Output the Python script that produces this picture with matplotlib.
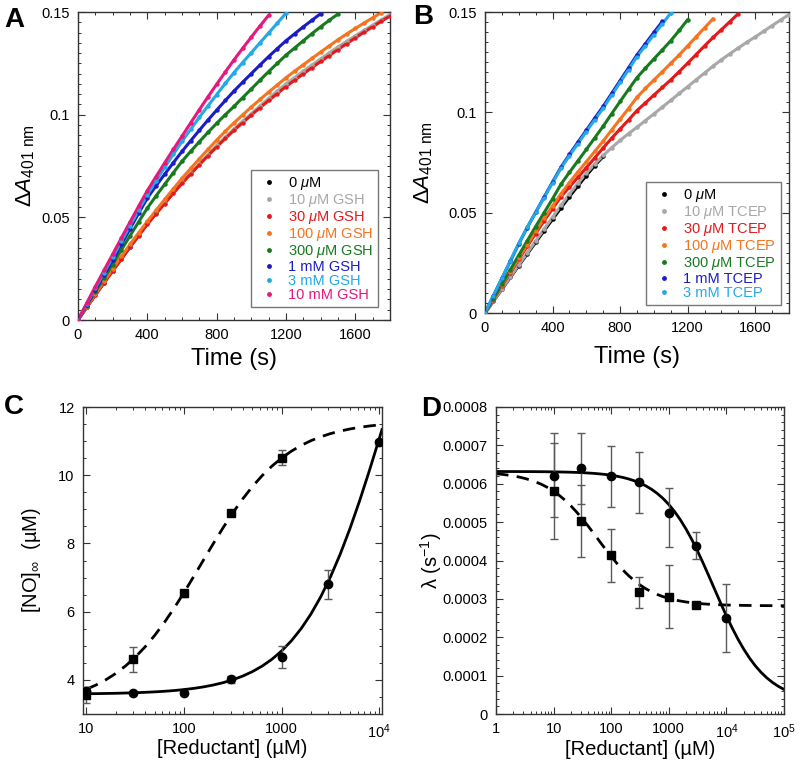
import numpy as np
import matplotlib
matplotlib.use('Agg')
import matplotlib.pyplot as plt
from matplotlib.lines import Line2D
from matplotlib.ticker import MultipleLocator, LogLocator, NullFormatter, FuncFormatter, FixedLocator

plt.rcParams['font.family'] = ['Liberation Sans', 'DejaVu Sans']
plt.rcParams['mathtext.fontset'] = 'custom'
plt.rcParams['mathtext.rm'] = 'Liberation Sans'
plt.rcParams['mathtext.it'] = 'Liberation Sans:italic'
plt.rcParams['mathtext.bf'] = 'Liberation Sans:bold'

# ---------------- Panel A data (GSH), sampled every 50 s ----------------
T_STEP = 50
a_0uM = [0, 0.0062, 0.0122, 0.0182, 0.024, 0.0298, 0.0356, 0.0413, 0.047, 0.052]
a_10uM = [0, 0.0062, 0.0122, 0.0182, 0.024, 0.0298, 0.0356, 0.0413, 0.047, 0.052, 0.057, 0.062,
          0.067, 0.0715, 0.076, 0.0805, 0.085, 0.089, 0.093, 0.0968, 0.1005, 0.1042, 0.1079,
          0.1115, 0.115, 0.1181, 0.1212, 0.1242, 0.1272, 0.1301, 0.133, 0.1357, 0.1384, 0.141,
          0.1436, 0.1462, 0.1487]
a_30uM = [0, 0.0061, 0.0121, 0.0181, 0.0239, 0.0297, 0.0354, 0.041, 0.0466, 0.0517, 0.0567,
          0.0617, 0.0665, 0.0711, 0.0756, 0.08, 0.0843, 0.0884, 0.0924, 0.0961, 0.0998, 0.1034,
          0.1069, 0.1103, 0.1137, 0.1168, 0.1199, 0.1229, 0.1259, 0.1288, 0.1317, 0.1346,
          0.1374, 0.1402, 0.1428, 0.1455, 0.148]
a_100uM = [0, 0.0064, 0.0127, 0.0189, 0.025, 0.031, 0.0368, 0.0425, 0.048, 0.0534, 0.0587,
           0.0639, 0.069, 0.0738, 0.0785, 0.0831, 0.0876, 0.0919, 0.096, 0.0999, 0.1037, 0.1074,
           0.111, 0.1145, 0.118, 0.1212, 0.1243, 0.1274, 0.1305, 0.1335, 0.1365, 0.1393, 0.142,
           0.1446, 0.1472, 0.1497]
a_300uM = [0, 0.0069, 0.0137, 0.0204, 0.027, 0.0341, 0.041, 0.0478, 0.0545, 0.0604, 0.0661,
           0.0717, 0.0773, 0.0821, 0.0868, 0.0914, 0.0958, 0.1, 0.104, 0.1083, 0.1125, 0.1168,
           0.121, 0.125, 0.129, 0.1325, 0.136, 0.1395, 0.1428, 0.146, 0.149]
a_1mM = [0, 0.0074, 0.0147, 0.0219, 0.029, 0.0368, 0.0444, 0.052, 0.0594, 0.0653, 0.071,
         0.0766, 0.0821, 0.0873, 0.0924, 0.0974, 0.1022, 0.1069, 0.1115, 0.1158, 0.12, 0.1242,
         0.1283, 0.1322, 0.136, 0.1394, 0.1428, 0.146, 0.1492]
a_3mM = [0, 0.0078, 0.0155, 0.0231, 0.0306, 0.0383, 0.0459, 0.0535, 0.061, 0.0677, 0.0743,
         0.0807, 0.087, 0.0929, 0.0987, 0.1043, 0.1098, 0.1152, 0.1205, 0.1254, 0.1302, 0.135,
         0.1398, 0.1446, 0.1494]
a_10mM = [0, 0.0082, 0.0163, 0.0242, 0.032, 0.0399, 0.0477, 0.0554, 0.063, 0.0698, 0.0765,
          0.0831, 0.0895, 0.096, 0.1024, 0.1087, 0.1148, 0.1208, 0.1267, 0.1323, 0.1378,
          0.1432, 0.1484]
a_labels = ['0 $\\mathit{\\mu}$M', '10 $\\mathit{\\mu}$M GSH', '30 $\\mathit{\\mu}$M GSH',
            '100 $\\mathit{\\mu}$M GSH', '300 $\\mathit{\\mu}$M GSH', '1 mM GSH', '3 mM GSH',
            '10 mM GSH']

# ---------------- Panel B data (TCEP), sampled every 50 s ----------------
b_0uM = [0, 0.0059, 0.0118, 0.0177, 0.0236, 0.0294, 0.0352, 0.041, 0.0467, 0.0524, 0.058,
         0.0633, 0.0685, 0.0735, 0.078]
b_10uM = [0, 0.006, 0.012, 0.018, 0.024, 0.0299, 0.0359, 0.0418, 0.0477, 0.0536, 0.0593,
          0.0646, 0.0697, 0.0743, 0.0785, 0.0824, 0.086, 0.0894, 0.0926, 0.0959, 0.0992,
          0.1026, 0.106, 0.1094, 0.1128, 0.1162, 0.1196, 0.123, 0.1262, 0.1292, 0.1321,
          0.1349, 0.1376, 0.1404, 0.1432, 0.146, 0.1487]
b_30uM = [0, 0.0067, 0.0134, 0.0201, 0.0267, 0.0332, 0.0396, 0.0459, 0.052, 0.0579, 0.0628,
          0.0676, 0.0724, 0.0773, 0.0823, 0.0871, 0.0917, 0.0962, 0.1009, 0.1047, 0.1086,
          0.1124, 0.1162, 0.1203, 0.1245, 0.1288, 0.1331, 0.1373, 0.1412, 0.1452, 0.1492]
b_100uM = [0, 0.0069, 0.0138, 0.0206, 0.0273, 0.0341, 0.0407, 0.0471, 0.0534, 0.0594, 0.065,
           0.0703, 0.0754, 0.0805, 0.0857, 0.0912, 0.0966, 0.1019, 0.1075, 0.1119, 0.1161,
           0.1202, 0.1244, 0.1286, 0.1331, 0.1376, 0.1421, 0.1466]
b_300uM = [0, 0.0072, 0.0144, 0.0216, 0.0288, 0.036, 0.0431, 0.05, 0.0569, 0.0642, 0.0701,
           0.0758, 0.0815, 0.0873, 0.0931, 0.0993, 0.1054, 0.1114, 0.1173, 0.122, 0.1266,
           0.1311, 0.1357, 0.1408, 0.1462]
b_1mM = [0, 0.0086, 0.0172, 0.0258, 0.0345, 0.0426, 0.0502, 0.0578, 0.0653, 0.0727, 0.079,
         0.0851, 0.0911, 0.0971, 0.103, 0.1094, 0.1158, 0.1222, 0.1286, 0.1342, 0.1398, 0.1453]
b_3mM = [0, 0.0087, 0.0173, 0.026, 0.0347, 0.0427, 0.0501, 0.0575, 0.0649, 0.0722, 0.0784,
         0.0844, 0.0904, 0.0963, 0.1021, 0.1085, 0.1149, 0.1213, 0.1278, 0.1332, 0.1387,
         0.1441, 0.1495]
b_labels = ['0 $\\mathit{\\mu}$M', '10 $\\mathit{\\mu}$M TCEP', '30 $\\mathit{\\mu}$M TCEP',
            '100 $\\mathit{\\mu}$M TCEP', '300 $\\mathit{\\mu}$M TCEP', '1 mM TCEP', '3 mM TCEP']

series_colors = ['#000000', '#a8a8a8', '#e3191c', '#f4741f', '#177a1f', '#1c1cc4', '#22a9e6',
                 '#e4187f']

# ---------------- Panel C data ----------------
c_circ_x = [10, 30, 100, 300, 1000, 3000, 10000]
c_circ_y = [3.68, 3.61, 3.61, 4.02, 4.66, 6.80, 10.98]
c_circ_err = [0.12, 0.03, 0.03, 0.10, 0.32, 0.43, 0.05]
c_sq_x = [10, 30, 100, 300, 1000]
c_sq_y = [3.56, 4.60, 6.54, 8.90, 10.51]
c_sq_err = [0.24, 0.36, 0.10, 0.07, 0.22]
# fitted curves (x = 10**exponent)
c_curve_exp = [1.0, 1.1, 1.2, 1.3, 1.4, 1.5, 1.6, 1.7, 1.8, 1.9, 2.0, 2.1, 2.2, 2.3, 2.4, 2.5,
               2.6, 2.7, 2.8, 2.9, 3.0, 3.1, 3.2, 3.3, 3.4, 3.5, 3.6, 3.7, 3.8, 3.9, 4.0, 4.027]
c_solid_y = [3.594, 3.597, 3.602, 3.607, 3.615, 3.623, 3.635, 3.649, 3.666, 3.688, 3.716,
             3.751, 3.795, 3.850, 3.918, 4.004, 4.110, 4.242, 4.404, 4.604, 4.849, 5.147,
             5.505, 5.932, 6.436, 7.021, 7.690, 8.441, 9.266, 10.152, 11.08, 11.338]
c_dash_y = [3.725, 3.851, 4.003, 4.186, 4.405, 4.662, 4.962, 5.304, 5.687, 6.108, 6.56, 7.033,
            7.516, 7.995, 8.459, 8.897, 9.301, 9.665, 9.987, 10.266, 10.504, 10.706, 10.874,
            11.013, 11.127, 11.220, 11.295, 11.356, 11.405, 11.444, 11.476, 11.483]

# ---------------- Panel D data (units of 1e-4 s^-1) ----------------
d_circ_x = [10, 30, 100, 300, 1000, 3000, 10000]
d_circ_y = [6.21, 6.40, 6.19, 6.04, 5.23, 4.39, 2.51]
d_circ_err_lo = [1.08, 0.93, 0.79, 0.79, 0.89, 0.36, 0.89]
d_circ_err_hi = [1.10, 0.93, 0.79, 0.80, 0.67, 0.36, 0.89]
d_sq_x = [10, 30, 100, 300, 1000, 3000]
d_sq_y = [5.81, 5.02, 4.14, 3.17, 3.05, 2.84]
d_sq_err = [1.25, 0.94, 0.69, 0.40, 0.82, 0.04]
d_curve_exp = [i / 10 for i in range(51)]
d_solid_y = [6.319, 6.319, 6.318, 6.318, 6.317, 6.317, 6.316, 6.315, 6.314, 6.312, 6.310,
             6.307, 6.304, 6.300, 6.295, 6.288, 6.280, 6.270, 6.257, 6.241, 6.221, 6.196,
             6.165, 6.126, 6.078, 6.019, 5.945, 5.856, 5.747, 5.616, 5.460, 5.276, 5.062,
             4.818, 4.543, 4.242, 3.919, 3.580, 3.234, 2.891, 2.558, 2.243, 1.953, 1.692,
             1.461, 1.260, 1.088, 0.944, 0.823, 0.723, 0.641]
d_dash_y = [6.261, 6.246, 6.227, 6.204, 6.175, 6.139, 6.095, 6.042, 5.977, 5.898, 5.805,
            5.696, 5.569, 5.424, 5.262, 5.085, 4.896, 4.698, 4.496, 4.297, 4.105, 3.924,
            3.758, 3.608, 3.477, 3.362, 3.265, 3.183, 3.115, 3.058, 3.012, 2.974, 2.944,
            2.919, 2.899, 2.883, 2.870, 2.860, 2.852, 2.845, 2.840, 2.836, 2.833, 2.830,
            2.828, 2.826, 2.825, 2.824, 2.823, 2.823, 2.822]

SPINE = '#333333'
ERR = '#5a5a5a'

fig = plt.figure(figsize=(8.0, 7.69), dpi=100)
W, H = 800.0, 769.0


def add_axes(l, t, r, b):
    return fig.add_axes([l / W, 1 - b / H, (r - l) / W, (b - t) / H])


def style(ax):
    for s in ax.spines.values():
        s.set_color(SPINE)
        s.set_linewidth(1.0)
    ax.tick_params(which='both', direction='in', top=True, right=True, colors=SPINE,
                   labelcolor='black', labelsize=10.5)
    ax.tick_params(which='major', length=5, width=0.8, pad=6)
    ax.tick_params(which='minor', length=2.5, width=0.7)


def kinetics(ax, series, labels, legend_anchor):
    for y, c in zip(series, series_colors):
        t = np.arange(len(y)) * T_STEP
        ax.plot(t, y, '-', color=c, lw=2.2, solid_capstyle='round', zorder=2)
        ax.plot(t, y, 'o', color=c, ms=3.2, mew=0, zorder=3)
    ax.set_xlim(0, 1800)
    ax.set_ylim(0, 0.15)
    ax.xaxis.set_major_locator(MultipleLocator(400))
    ax.xaxis.set_minor_locator(MultipleLocator(100))
    ax.yaxis.set_major_locator(MultipleLocator(0.05))
    ax.yaxis.set_minor_locator(MultipleLocator(0.005))
    ax.yaxis.set_major_formatter(FuncFormatter(lambda v, p: '%g' % round(v, 4)))
    style(ax)
    ax.set_xlabel('Time (s)', fontsize=17)
    ax.set_ylabel('$\\Delta\\mathit{A}_{\\mathrm{401\\ nm}}$', fontsize=16)
    handles = [Line2D([], [], ls='none', marker='o', ms=3.5, mew=0, color=c)
               for c in series_colors[:len(series)]]
    leg = ax.legend(handles, labels, loc='lower right', bbox_to_anchor=legend_anchor,
                    borderaxespad=0, fontsize=10.5, frameon=True, fancybox=False,
                    handlelength=1.8, handletextpad=0.4, labelspacing=0.0,
                    borderpad=0.35, edgecolor='#555555')
    leg.get_frame().set_linewidth(1.0)
    for txt, c in zip(leg.get_texts(), series_colors):
        txt.set_color(c)


# Panel A
axA = add_axes(78, 12, 390, 320)
kinetics(axA, [a_0uM, a_10uM, a_30uM, a_100uM, a_300uM, a_1mM, a_3mM, a_10mM], a_labels,
         (0.962, 0.042))
axA.yaxis.set_label_coords(-0.13, 0.5)
axA.xaxis.set_label_coords(0.5, -0.09)

# Panel B
axB = add_axes(485, 12, 789, 313)
kinetics(axB, [b_0uM, b_10uM, b_30uM, b_100uM, b_300uM, b_1mM, b_3mM], b_labels,
         (0.974, 0.027))
axB.yaxis.set_label_coords(-0.165, 0.5)
axB.xaxis.set_label_coords(0.5, -0.11)

# Panel C
axC = add_axes(83, 407, 382, 714)
axC.set_xscale('log')
axC.plot([10 ** e for e in c_curve_exp], c_solid_y, '-', color='black', lw=2.0, zorder=2)
axC.plot([10 ** e for e in c_curve_exp], c_dash_y, '--', color='black', lw=2.0,
         dashes=(4.5, 3.0), zorder=2)
axC.errorbar(c_circ_x, c_circ_y, yerr=c_circ_err, fmt='none', ecolor=ERR, elinewidth=1.0,
             capsize=2.8, capthick=1.0, zorder=3)
axC.errorbar(c_sq_x, c_sq_y, yerr=c_sq_err, fmt='none', ecolor=ERR, elinewidth=1.0,
             capsize=2.8, capthick=1.0, zorder=3)
axC.plot(c_circ_x, c_circ_y, 'o', color='black', ms=6.0, zorder=4)
axC.plot(c_sq_x, c_sq_y, 's', color='black', ms=5.5, zorder=4)
axC.set_xlim(9.25, 10650)
axC.set_ylim(3, 12)
axC.xaxis.set_major_locator(FixedLocator([10, 100, 1000, 10000]))
axC.set_xticklabels(['10', '100', '1000', '10$^4$'])
axC.xaxis.set_minor_locator(LogLocator(base=10, subs=np.arange(2, 10), numticks=20))
axC.xaxis.set_minor_formatter(NullFormatter())
axC.yaxis.set_major_locator(FixedLocator([4, 6, 8, 10, 12]))
axC.yaxis.set_minor_locator(MultipleLocator(0.5))
style(axC)
axC.set_xlabel('[Reductant] (µM)', fontsize=14.5)
axC.set_ylabel('[NO]$_{\\infty}$  (µM)', fontsize=14.5)
axC.yaxis.set_label_coords(-0.135, 0.5)
axC.xaxis.set_label_coords(0.5, -0.08)

# Panel D
axD = add_axes(496, 407, 784, 714)
axD.set_xscale('log')
sc = 1e-4
axD.plot([10 ** e for e in d_curve_exp], [v * sc for v in d_solid_y], '-', color='black',
         lw=2.0, zorder=2)
axD.plot([10 ** e for e in d_curve_exp], [v * sc for v in d_dash_y], '--', color='black',
         lw=2.0, dashes=(4.5, 3.0), zorder=2)
axD.errorbar(d_circ_x, [v * sc for v in d_circ_y],
             yerr=[[v * sc for v in d_circ_err_lo], [v * sc for v in d_circ_err_hi]],
             fmt='none', ecolor=ERR, elinewidth=1.0, capsize=2.8, capthick=1.0, zorder=3)
axD.errorbar(d_sq_x, [v * sc for v in d_sq_y], yerr=[v * sc for v in d_sq_err], fmt='none',
             ecolor=ERR, elinewidth=1.0, capsize=2.8, capthick=1.0, zorder=3)
axD.plot(d_circ_x, [v * sc for v in d_circ_y], 'o', color='black', ms=6.0, zorder=4)
axD.plot(d_sq_x, [v * sc for v in d_sq_y], 's', color='black', ms=5.5, zorder=4)
axD.set_xlim(1, 1e5)
axD.set_ylim(0, 0.0008)
axD.xaxis.set_major_locator(FixedLocator([1, 10, 100, 1000, 1e4, 1e5]))
axD.set_xticklabels(['1', '10', '100', '1000', '10$^4$', '10$^5$'])
axD.xaxis.set_minor_locator(LogLocator(base=10, subs=np.arange(2, 10), numticks=20))
axD.xaxis.set_minor_formatter(NullFormatter())
axD.yaxis.set_major_locator(MultipleLocator(0.0001))
axD.yaxis.set_minor_locator(MultipleLocator(0.00002))
axD.yaxis.set_major_formatter(FuncFormatter(lambda v, p: '0' if abs(v) < 1e-9 else '%.4f' % v))
style(axD)
axD.set_xlabel('[Reductant] (µM)', fontsize=14.5)
axD.set_ylabel('λ (s$^{\\mathregular{-1}}$)', fontsize=14.5)
axD.yaxis.set_label_coords(-0.18, 0.5)
axD.xaxis.set_label_coords(0.5, -0.085)

# Panel letters
for letter, x, y in [('A', 4, 7), ('B', 413, 4), ('C', 4, 394), ('D', 421, 396)]:
    fig.text(x / W, 1 - y / H, letter, fontsize=20, fontweight='bold', ha='left', va='top')

fig.savefig('out.png', dpi=100)
